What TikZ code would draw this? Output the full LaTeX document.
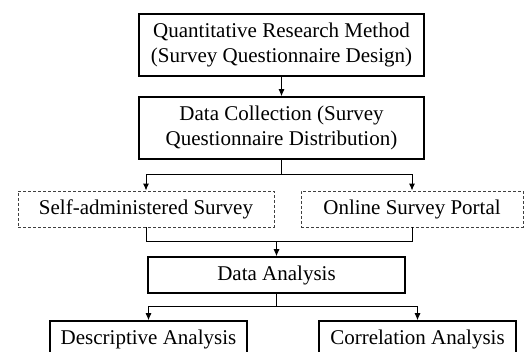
\documentclass[tikz,border=0pt]{standalone}
\usepackage{fontspec}
\setmainfont{Liberation Serif}
\usetikzlibrary{arrows.meta, positioning, calc}

\begin{document}
\begin{tikzpicture}[
        x=1pt, y=-1pt,
        procbox/.style={rectangle, draw, line width=1.5pt, align=center, inner sep=0pt, font=\fontsize{21}{25}\selectfont},
        optbox/.style={rectangle, draw=black!75, dashed, dash pattern=on 3pt off 2pt, line width=0.9pt, align=center, inner sep=0pt, font=\fontsize{21}{25}\selectfont},
        arrow/.style={-{Latex[length=7pt,width=6pt]}, line width=1pt},
        link/.style={line width=1pt}
    ]
        \useasboundingbox (0,0) rectangle (530,352);

        \node[procbox, minimum width=285pt, minimum height=62pt] (method) at (281.5,45) {Quantitative Research Method\\(Survey Questionnaire Design)};
        \node[procbox, minimum width=285pt, minimum height=62pt] (collect) at (281.5,128) {Data Collection (Survey\\Questionnaire Distribution)};
        \node[optbox, minimum width=256pt, minimum height=36pt] (self) at (146,209) {Self-administered Survey};
        \node[optbox, minimum width=222pt, minimum height=36pt] (online) at (412,209) {Online Survey Portal};
        \node[procbox, minimum width=257pt, minimum height=36pt] (analysis) at (276.5,275) {Data Analysis};
        \node[procbox, minimum width=197pt, minimum height=36pt] (descr) at (148.5,339) {Descriptive Analysis};
        \node[procbox, minimum width=197pt, minimum height=36pt] (corr) at (417.5,339) {Correlation Analysis};

        \coordinate (split) at (281.5,175);
        \coordinate (merge) at (276.5,242);
        \coordinate (branch) at (276.5,307);

        \draw[arrow] (method) -- (collect);
        \draw[link] (collect.south) -- (split);
        \draw[arrow] (split) -| (self.north);
        \draw[arrow] (split) -| (online.north);

        \draw[link] (self.south) |- (merge);
        \draw[link] (online.south) |- (merge);
        \draw[arrow] (merge) -- (analysis.north);

        \draw[link] (analysis.south) -- (branch);
        \draw[arrow] (branch) -| (descr.north);
        \draw[arrow] (branch) -| (corr.north);
    \end{tikzpicture}
\end{document}
